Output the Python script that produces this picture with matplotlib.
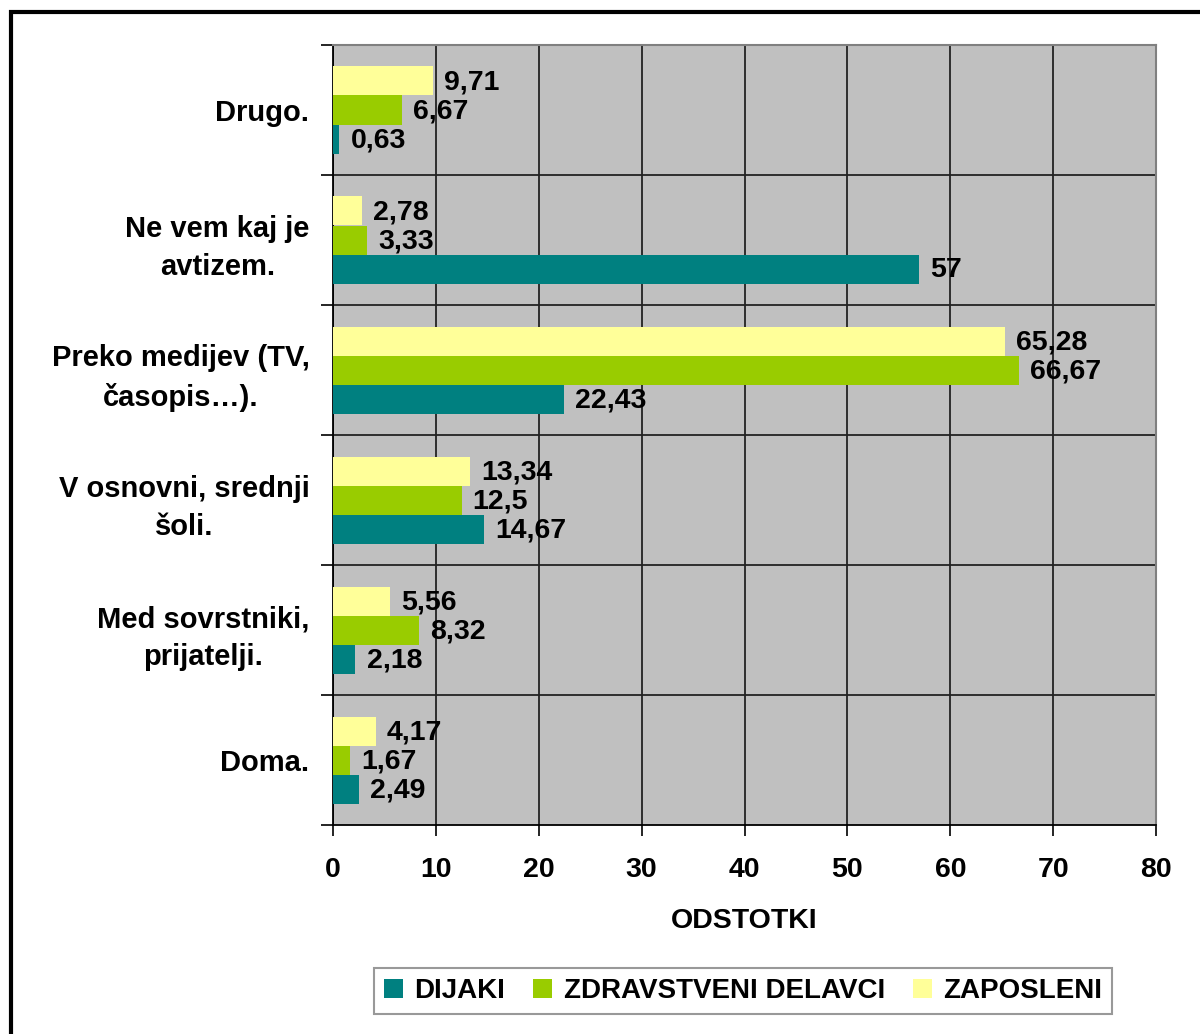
import matplotlib
matplotlib.use("Agg")
import matplotlib.pyplot as plt
from matplotlib.patches import Rectangle, Patch
import numpy as np

plt.rcParams['font.family'] = ['Liberation Sans', 'DejaVu Sans']
plt.rcParams['font.weight'] = 'bold'

categories = ["Doma.", "Med sovrstniki,\nprijatelji.", "V osnovni, srednji\nšoli.",
              "Preko medijev (TV,\nčasopis…).", "Ne vem kaj je\navtizem.", "Drugo."]
series_names = ["DIJAKI", "ZDRAVSTVENI DELAVCI", "ZAPOSLENI"]
dijaki = [2.49, 2.18, 14.67, 22.43, 57, 0.63]
zdravstveni = [1.67, 8.32, 12.5, 66.67, 3.33, 6.67]
zaposleni = [4.17, 5.56, 13.34, 65.28, 2.78, 9.71]
x_ticks = [0, 10, 20, 30, 40, 50, 60, 70, 80]
colors = ["#008080", "#99CC00", "#FFFF99"]

fig = plt.figure(figsize=(12, 10.34), dpi=100)
ax = fig.add_axes([333/1200, 1-825/1034, (1156-333)/1200, (825-45)/1034])
ax.set_facecolor("#C0C0C0")

y = np.arange(len(categories))
h = 29/130
offsets = [-h, 0, h]
for vals, off, c, name in zip([dijaki, zdravstveni, zaposleni], offsets, colors, series_names):
    ax.barh(y + off, vals, height=h, color=c, label=name, zorder=3)
    for yi, v in zip(y + off, vals):
        s = f"{v:g}".replace(".", ",")
        ax.annotate(s, (v, yi), xytext=(8, -1), textcoords="offset points",
                    va="center", ha="left", fontsize=20.5, fontweight="bold", zorder=5)

ax.set_xlim(0, 80)
ax.set_ylim(-0.5, len(categories) - 0.5)
ax.set_xticks(x_ticks)
ax.set_xticklabels([str(t) for t in x_ticks], fontsize=20.5, fontweight="bold")
ax.tick_params(axis='x', length=8, width=1.2, direction='out', pad=15, color='black')
ax.xaxis.grid(True, color="#222222", linewidth=1.3, zorder=1)
ax.set_axisbelow(True)

bounds = np.arange(-0.5, len(categories), 1.0)
ax.set_yticks(y)
ax.set_yticklabels(categories, fontsize=21, fontweight="bold", ha="right",
                   multialignment="center", linespacing=1.45)
ax.tick_params(axis='y', length=0, pad=17)
ax.set_yticks(bounds, minor=True)
ax.tick_params(axis='y', which='minor', length=9, width=1.2, direction='out', color='black')
for b in bounds[1:-1]:
    ax.axhline(b, color="#222222", linewidth=1.3, zorder=1)

ax.spines['left'].set_color('black')
ax.spines['bottom'].set_color('black')
ax.spines['left'].set_linewidth(1.3)
ax.spines['bottom'].set_linewidth(1.3)
ax.spines['top'].set_color('#808080')
ax.spines['right'].set_color('#808080')
ax.spines['top'].set_linewidth(1.5)
ax.spines['right'].set_linewidth(1.5)

ax.set_xlabel("ODSTOTKI", fontsize=20.5, fontweight="bold", labelpad=18)

handles = [Patch(facecolor=c, edgecolor='none', label=n) for c, n in zip(colors, series_names)]
leg = fig.legend(handles=handles, loc='center', bbox_to_anchor=(743/1200, 1-991/1034),
                 ncol=3, frameon=True, fancybox=False, edgecolor='#808080',
                 handlelength=0.7, handleheight=0.7, handletextpad=0.4, columnspacing=1.0,
                 borderpad=0.35, prop={'weight': 'bold', 'size': 20})
leg.get_frame().set_linewidth(1.5)

fig.patches.append(Rectangle((10.5/1200, -0.05), 1.1, 1 - 11.5/1034 + 0.05,
                             transform=fig.transFigure, fill=False, edgecolor='black',
                             linewidth=3, clip_on=False))

fig.savefig("out.png", dpi=100)
